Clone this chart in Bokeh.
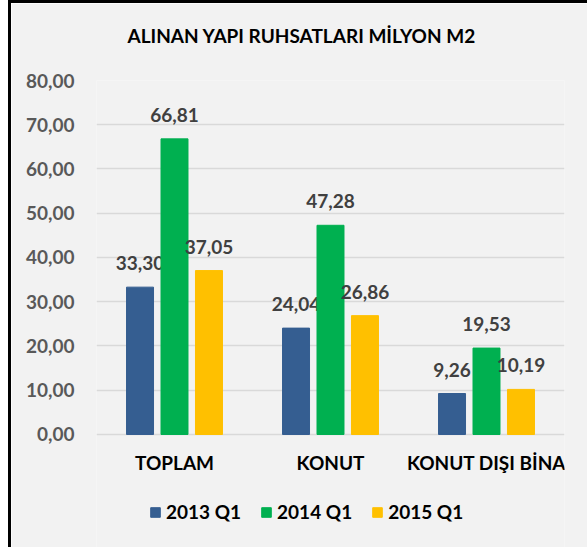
from bokeh.plotting import figure
from bokeh.models import ColumnDataSource, FactorRange, Range1d, FixedTicker, Legend, LegendItem
from bokeh.transform import dodge
from bokeh.core.properties import value
from bokeh.embed import file_html
from bokeh.resources import INLINE

categories = ["TOPLAM", "KONUT", "KONUT DIŞI BİNA"]
series = ["2013 Q1", "2014 Q1", "2015 Q1"]
v2013 = [33.30, 24.04, 9.26]
v2014 = [66.81, 47.28, 19.53]
v2015 = [37.05, 26.86, 10.19]
colors = ["#355E91", "#00B050", "#FFC000"]
y_ticks = [0, 10, 20, 30, 40, 50, 60, 70, 80]
y_tick_labels = ["0,00", "10,00", "20,00", "30,00", "40,00", "50,00", "60,00", "70,00", "80,00"]
title_text = "ALINAN YAPI RUHSATLARI  MİLYON M2"

FONT = "Lato"
FS = "19px"
BG = "#f2f2f2"

# value axis spans 0..80; the area below 0 holds the category labels and legend
p = figure(x_range=FactorRange(*categories, range_padding=0), y_range=Range1d(-25.54, 80),
           width=576, height=544, frame_width=468, frame_height=467,
           x_axis_location=None,
           output_backend="svg", toolbar_location=None,
           min_border_left=85, min_border_right=23, min_border_top=77, min_border_bottom=0,
           background_fill_color=BG, border_fill_color=BG, title=title_text + "\n")
p.styles = {"border-left": "3px solid #000000", "border-top": "3px solid #000000",
            "margin-left": "8px"}

offsets = [-0.221, 0.0, 0.221]
items = []
for name, vals, col, off in zip(series, [v2013, v2014, v2015], colors, offsets):
    src = ColumnDataSource(dict(cat=categories, val=vals,
                                lab=[f"{v:.2f}".replace(".", ",") for v in vals]))
    r = p.vbar(x=dodge("cat", off, range=p.x_range), top="val", width=0.173, source=src,
               fill_color=col, line_color=col)
    p.text(x=dodge("cat", off, range=p.x_range), y="val", text="lab", source=src,
           text_align="center", text_baseline="alphabetic", y_offset=-24,
           text_font=value(FONT), text_font_style="bold", text_font_size=FS, text_color="#404040")
    items.append(LegendItem(label=name, renderers=[r]))

# category labels just under the zero line
cat_src = ColumnDataSource(dict(cat=categories, base=[0] * len(categories)))
p.text(x="cat", y="base", text="cat", source=cat_src, text_align="center",
       text_baseline="middle", y_offset=28, text_font=value(FONT), text_font_style="bold",
       text_font_size=FS, text_color="#000000")

legend = Legend(items=items, orientation="horizontal", location=(53, 24),
                glyph_width=12, glyph_height=12, label_standoff=5, spacing=19,
                padding=0, margin=0, background_fill_alpha=0, border_line_alpha=0,
                label_text_font=FONT, label_text_font_style="bold", label_text_font_size=FS,
                label_text_color="#000000")
p.add_layout(legend, "center")

p.title.align = "left"
p.title.offset = 31
p.title.standoff = 22
p.title.text_font = FONT
p.title.text_font_size = FS
p.title.text_font_style = "bold"
p.title.text_color = "#000000"

p.yaxis.ticker = FixedTicker(ticks=y_ticks)
p.yaxis.major_label_overrides = dict(zip(y_ticks, y_tick_labels))
p.yaxis.axis_line_color = None
p.yaxis.major_tick_line_color = None
p.yaxis.minor_tick_line_color = None
p.yaxis.major_label_standoff = 16
p.yaxis.major_label_text_font = FONT
p.yaxis.major_label_text_font_style = "bold"
p.yaxis.major_label_text_font_size = FS
p.yaxis.major_label_text_color = "#595959"

p.xgrid.grid_line_color = None
p.ygrid.grid_line_color = "#d9d9d9"
p.ygrid.grid_line_width = 1.5
p.outline_line_color = None

open("out.html", "w").write(file_html(p, INLINE))
